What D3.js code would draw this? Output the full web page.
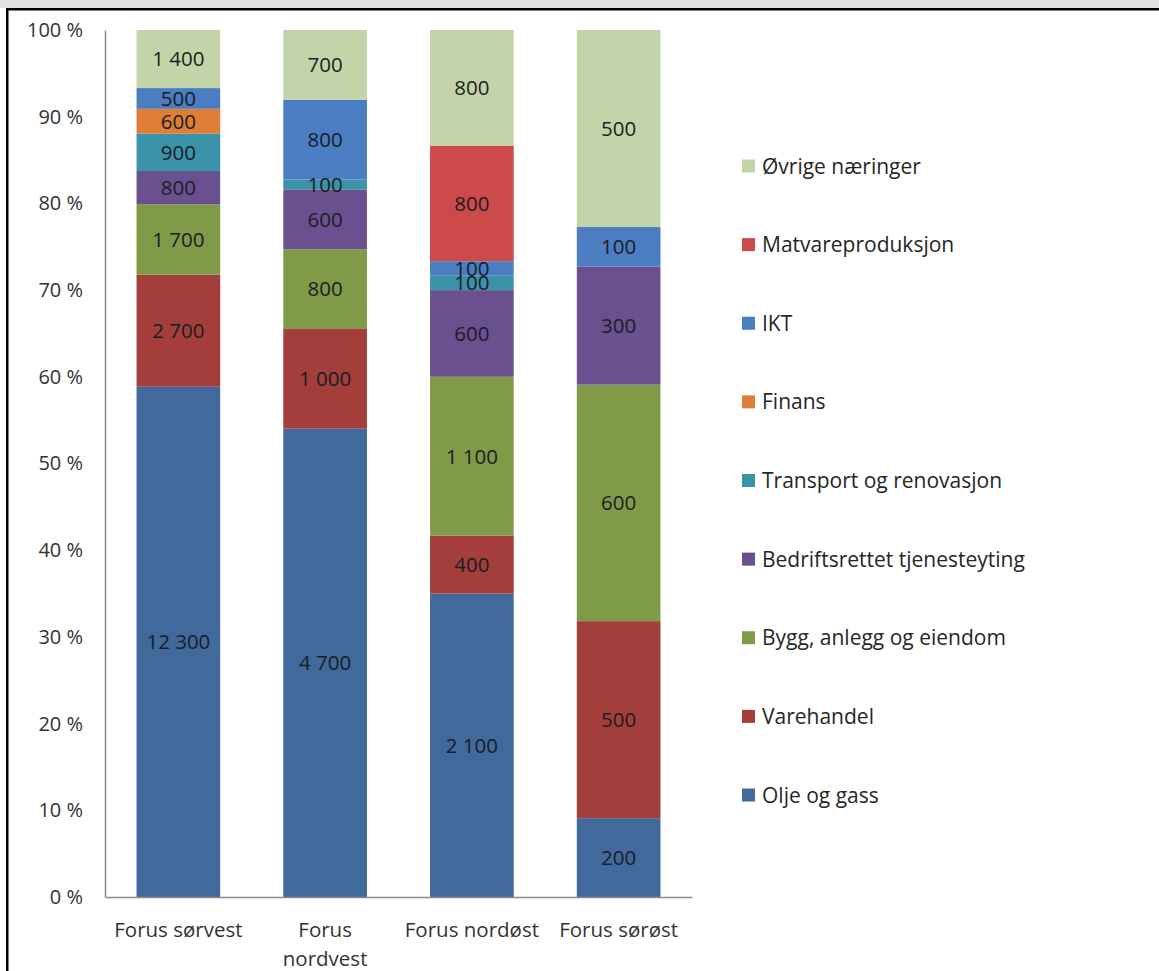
<!DOCTYPE html>
<html>
<head>
<meta charset="utf-8">
<script src="https://cdn.jsdelivr.net/npm/d3@7"></script>
<style>
  html, body { margin: 0; padding: 0; background: #fff; }
  svg { display: block; }
  text { font-family: "Open Sans", "Noto Sans", sans-serif; }
</style>
</head>
<body>
<svg id="chart" width="1159" height="971"></svg>
<script>
// Employees by industry in the four Forus areas (rounded to nearest hundred)
const areas = ["Forus sørvest", "Forus nordvest", "Forus nordøst", "Forus sørøst"];
const industries = [
  "Olje og gass",
  "Varehandel",
  "Bygg, anlegg og eiendom",
  "Bedriftsrettet tjenesteyting",
  "Transport og renovasjon",
  "Finans",
  "IKT",
  "Matvareproduksjon",
  "Øvrige næringer"
];
// one array per industry, in the order of `areas`
const oljeOgGass      = [12300, 4700, 2100, 200];
const varehandel      = [2700, 1000, 400, 500];
const byggAnlegg      = [1700, 800, 1100, 600];
const bedriftsrettet  = [800, 600, 600, 300];
const transport       = [900, 100, 100, 0];
const finans          = [600, 0, 0, 0];
const ikt             = [500, 800, 100, 100];
const matvare         = [0, 0, 800, 0];
const ovrige          = [1400, 700, 800, 500];
const yTicks = [0, 0.1, 0.2, 0.3, 0.4, 0.5, 0.6, 0.7, 0.8, 0.9, 1.0];

const colors = ["#41699c", "#a33e3b", "#7f9b48", "#6a508e", "#3a93a8",
                "#de7e37", "#4a7dc2", "#cc4a49", "#c3d5a8"];

const seriesValues = [oljeOgGass, varehandel, byggAnlegg, bedriftsrettet,
                      transport, finans, ikt, matvare, ovrige];
const rows = areas.map((a, i) => {
  const r = { area: a };
  industries.forEach((k, j) => { r[k] = seriesValues[j][i]; });
  return r;
});

const svg = d3.select("#chart");

// frame: grey strip along the top, black rules top and left
svg.append("rect").attr("x", 0).attr("y", 0).attr("width", 1159).attr("height", 8).attr("fill", "#e1e1e1");
svg.append("rect").attr("x", 6).attr("y", 8).attr("width", 1153).attr("height", 2.5).attr("fill", "#000");
svg.append("rect").attr("x", 6).attr("y", 8).attr("width", 2.5).attr("height", 963).attr("fill", "#000");

const x = d3.scaleBand().domain(areas).range([105, 692]).paddingInner(0.43).paddingOuter(0.215);
const y = d3.scaleLinear().domain([0, 1]).range([897, 30]);
const color = d3.scaleOrdinal().domain(industries).range(colors);

const stack = d3.stack().keys(industries).offset(d3.stackOffsetExpand);
const stacked = stack(rows);

const fmt = d3.formatLocale({ decimal: ",", thousands: "\u00a0", grouping: [3], currency: ["", " kr"] }).format(",d");

// stacked bars
const layers = svg.append("g").selectAll("g").data(stacked).join("g")
  .attr("fill", d => color(d.key));
layers.selectAll("rect").data(d => d).join("rect")
  .attr("x", d => x(d.data.area))
  .attr("width", x.bandwidth())
  .attr("y", d => y(d[1]))
  .attr("height", d => Math.max(0, y(d[0]) - y(d[1])));

// value labels
const labels = svg.append("g");
stacked.forEach(layer => {
  layer.forEach(d => {
    const v = d.data[layer.key];
    if (!v) return;
    labels.append("text")
      .attr("x", x(d.data.area) + x.bandwidth() / 2)
      .attr("y", (y(d[0]) + y(d[1])) / 2)
      .attr("dy", "0.36em")
      .attr("text-anchor", "middle")
      .attr("font-size", 20.5)
      .attr("fill", "#1c1c26")
      .text(fmt(v));
  });
});

// y axis
const yAxis = d3.axisLeft(y).tickValues(yTicks).tickSize(0).tickPadding(22)
  .tickFormat(d => Math.round(d * 100) + " %");
const gy = svg.append("g").attr("transform", "translate(105,0)").call(yAxis);
gy.select(".domain").attr("stroke", "#8c8c8c").attr("stroke-width", 1.5);
gy.selectAll("text").attr("font-size", 20).attr("fill", "#333")
  .attr("font-family", "'Open Sans', sans-serif");

// x axis
const xAxis = d3.axisBottom(x).tickSize(0).tickPadding(0);
const gx = svg.append("g").attr("transform", "translate(0,897)").call(xAxis);
gx.select(".domain").attr("stroke", "#8c8c8c").attr("stroke-width", 1.5);
gx.selectAll("text").attr("font-size", 20.5).attr("fill", "#333")
  .attr("font-family", "'Open Sans', sans-serif")
  .each(function(d) {
    const t = d3.select(this);
    t.text(null).attr("y", 0).attr("dy", null);
    const lines = d === "Forus nordvest" ? ["Forus", "nordvest"] : [d];
    lines.forEach((ln, i) => {
      t.append("tspan").attr("x", 0).attr("y", 40 + i * 29).text(ln);
    });
  });

// legend, top entry = top of stack
const legendOrder = industries.slice().reverse();
const ly = d3.scalePoint().domain(legendOrder).range([166, 795]);
const lg = svg.append("g").selectAll("g").data(legendOrder).join("g")
  .attr("transform", d => `translate(742,${ly(d)})`);
lg.append("rect").attr("x", 0).attr("y", -6.5).attr("width", 13).attr("height", 13)
  .attr("fill", d => color(d));
lg.append("text").attr("x", 20).attr("dy", "0.36em").attr("font-size", 21)
  .attr("fill", "#262626").text(d => d);
</script>
</body>
</html>
